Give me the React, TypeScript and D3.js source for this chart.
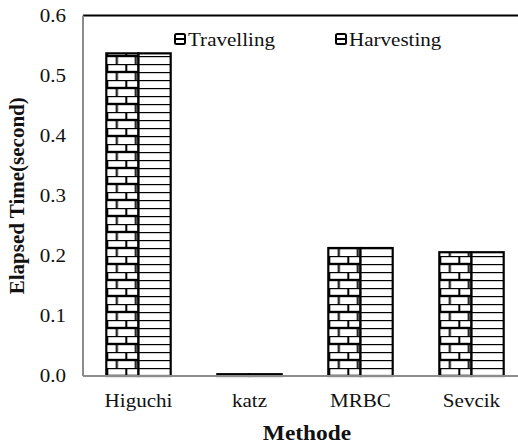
import React from "react";
import * as d3 from "d3";

const categories = ["Higuchi", "katz", "MRBC", "Sevcik"];
const seriesNames = ["Travelling", "Harvesting"];
const travelling = [0.537, 0.003, 0.213, 0.206];
const harvesting = [0.537, 0.003, 0.213, 0.206];
const yTicks = [0, 0.1, 0.2, 0.3, 0.4, 0.5, 0.6];

const W = 518;
const H = 445;
const left = 83;
const top = 15.5;
const bottom = 376;
const font = "Liberation Serif, Times New Roman, DejaVu Serif, serif";
const SX = 1.17; // text in the picture is a bit wide

// stretched text helper
const SText = ({ x, y, anchor = "start", size = 18, bold = false, children }: any) => (
  <g transform={`translate(${x},${y}) scale(${SX},1)`}>
    <text
      x={0}
      y={0}
      textAnchor={anchor}
      style={{ fontFamily: font, fontSize: size, fontWeight: bold ? "bold" : "normal" }}
      fill="#111"
    >
      {children}
    </text>
  </g>
);

export default function App() {
  const x0 = d3
    .scaleBand()
    .domain(categories)
    .range([left, 527])
    .paddingInner(0.42)
    .paddingOuter(0.21);
  const x1 = d3.scaleBand().domain(seriesNames).range([0, x0.bandwidth()]);
  const y = d3.scaleLinear().domain([0, 0.6]).range([bottom, top]);
  const fmt = d3.format(".1f");

  const rows = categories.map((c, i) => ({
    cat: c,
    vals: [
      { s: "Travelling", v: travelling[i] },
      { s: "Harvesting", v: harvesting[i] },
    ],
  }));

  return (
    <svg
      width={W}
      height={H}
      style={{ position: "absolute", left: 0, top: 0, background: "#fff", fontFamily: font }}
    >
      <defs>
        <pattern id="brick" patternUnits="userSpaceOnUse" width={19} height={16}>
          <rect width={19} height={16} fill="#fff" />
          <line x1={0} x2={19} y1={0} y2={0} stroke="#000" strokeWidth={2.4} />
          <line x1={0} x2={19} y1={8} y2={8} stroke="#000" strokeWidth={2.4} />
          <line x1={1} x2={1} y1={0} y2={8} stroke="#000" strokeWidth={2} />
          <line x1={10.5} x2={10.5} y1={8} y2={16} stroke="#000" strokeWidth={2} />
        </pattern>
        <pattern id="hlines" patternUnits="userSpaceOnUse" width={10} height={8}>
          <rect width={10} height={8} fill="#fff" />
          <line x1={0} x2={10} y1={0} y2={0} stroke="#000" strokeWidth={2.4} />
        </pattern>
      </defs>

      {/* frame */}
      <line x1={left} x2={W} y1={top} y2={top} stroke="#000" strokeWidth={2} />
      <line x1={left} x2={left} y1={top} y2={bottom} stroke="#8c8c8c" strokeWidth={2} />

      {/* bars */}
      {rows.map((r) => (
        <g key={r.cat} transform={`translate(${x0(r.cat)},0)`}>
          {r.vals.map((d) => (
            <rect
              key={d.s}
              x={x1(d.s)}
              y={y(d.v)}
              width={x1.bandwidth()}
              height={y(0) - y(d.v)}
              fill={d.s === "Travelling" ? "url(#brick)" : "url(#hlines)"}
              stroke="#000"
              strokeWidth={2.2}
            />
          ))}
        </g>
      ))}

      <line x1={left} x2={W} y1={bottom} y2={bottom} stroke="#8c8c8c" strokeWidth={2} />

      {/* y ticks */}
      {yTicks.map((t) => (
        <SText key={t} x={66} y={y(t) + 6} anchor="end" size={18}>
          {fmt(t)}
        </SText>
      ))}

      {/* x labels */}
      {categories.map((c) => (
        <SText key={c} x={(x0(c) as number) + x0.bandwidth() / 2} y={407} anchor="middle" size={18}>
          {c}
        </SText>
      ))}

      {/* axis titles */}
      <SText x={307} y={440} anchor="middle" size={20} bold>
        Methode
      </SText>
      <text
        transform={`translate(24,${(top + bottom) / 2}) rotate(-90)`}
        textAnchor="middle"
        style={{ fontFamily: font, fontSize: 21, fontWeight: "bold" }}
        fill="#111"
      >
        Elapsed Time(second)
      </text>

      {/* legend */}
      {seriesNames.map((s, i) => {
        const lx = i === 0 ? 175 : 336;
        return (
          <g key={s}>
            <rect x={lx} y={34} width={10} height={10} rx={1.5} fill="#fff" stroke="#000" strokeWidth={2} />
            <line x1={lx} x2={lx + 10} y1={39} y2={39} stroke="#000" strokeWidth={2} />
            <SText x={lx + 13} y={46} size={18}>
              {s}
            </SText>
          </g>
        );
      })}
    </svg>
  );
}
